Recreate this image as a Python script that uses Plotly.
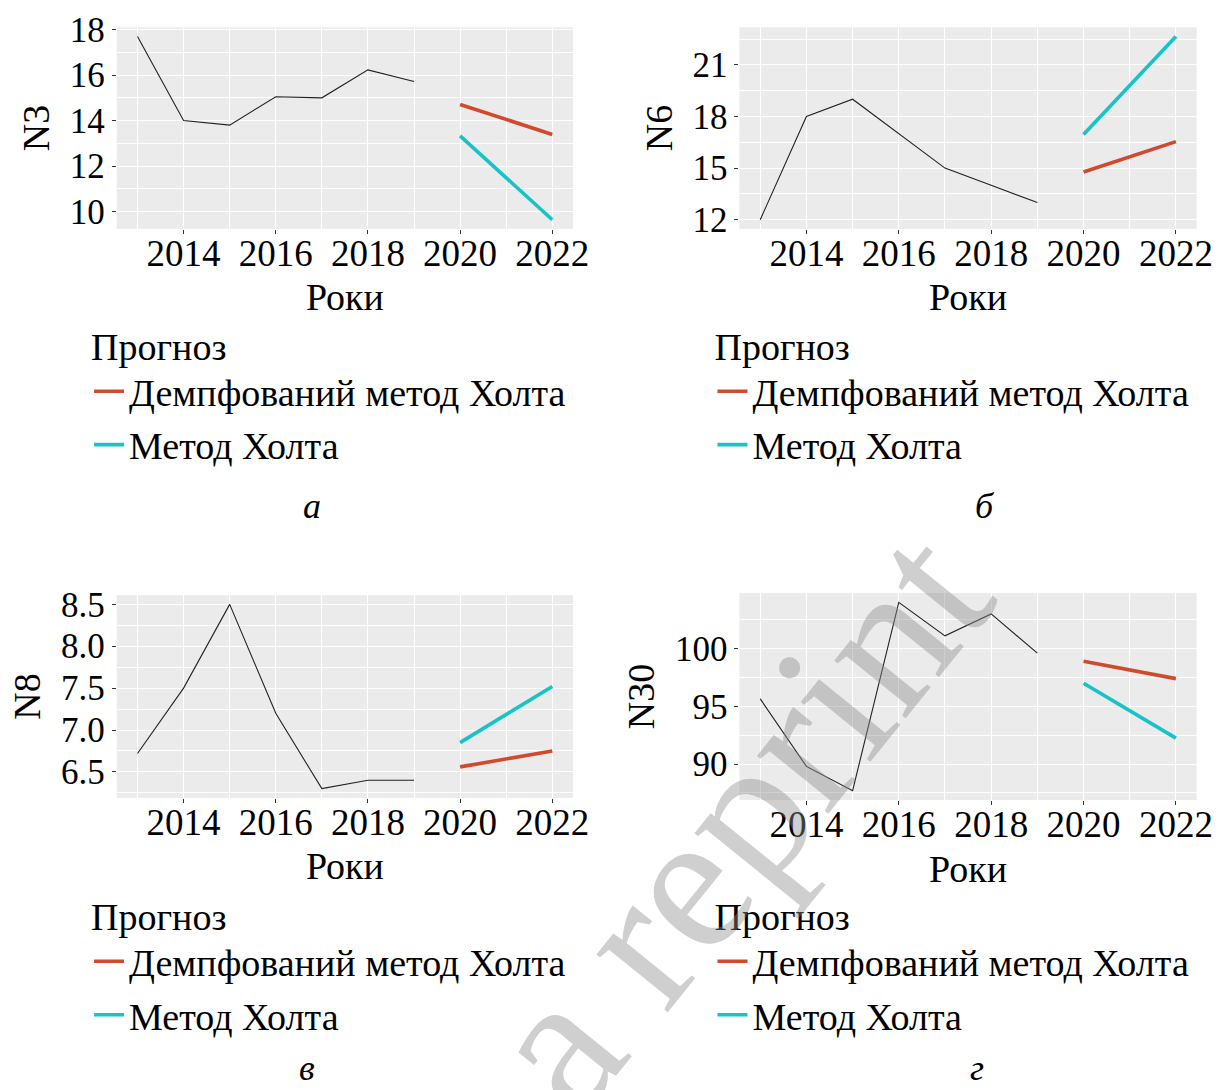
import plotly.graph_objects as go
from plotly.subplots import make_subplots

years = [2013, 2014, 2015, 2016, 2017, 2018, 2019]
fyears = [2020, 2021, 2022]

n3 = [17.7, 14.0, 13.8, 15.05, 15.0, 16.23, 15.72]
n3_damped = [14.71, 14.05, 13.39]
n3_holt = [13.33, 11.48, 9.64]

n6 = [12.0, 18.0, 19.0, 17.0, 15.0, 14.0, 13.0]
n6_damped = [14.77, 15.68, 16.54]
n6_holt = [16.95, 19.8, 22.65]

n8 = [6.72, 7.5, 8.5, 7.2, 6.3, 6.4, 6.4]
n8_damped = [6.56, 6.66, 6.75]
n8_holt = [6.85, 7.18, 7.52]

n30 = [95.65, 89.8, 87.7, 104.0, 101.1, 103.0, 99.6]
n30_damped = [98.9, 98.15, 97.4]
n30_holt = [97.0, 94.6, 92.25]

panel_names = ["N3", "N6", "N8", "N30"]
captions = ["а", "б", "в", "г"]
y_dticks = [2, 3, 0.5, 5]
y_formats = ["", "", ".1f", ""]
series_name_damped = "Демпфований метод Холта"
series_name_holt = "Метод Холта"
legend_title = "Прогноз"
x_title = "Роки"
watermark = "a reprint"

actual = [n3, n6, n8, n30]
damped = [n3_damped, n6_damped, n8_damped, n30_damped]
holt = [n3_holt, n6_holt, n8_holt, n30_holt]

FONT = "Liberation Serif"
RED = "#CF4A2E"
CYAN = "#17C3C9"

fig = make_subplots(rows=2, cols=2)

x_domains = [[0.0957, 0.4697], [0.6061, 0.9809], [0.0957, 0.4697], [0.6061, 0.9809]]
y_domains = [[0.790, 0.975], [0.790, 0.975], [0.268, 0.454], [0.266, 0.456]]
legend_pos = [(0.073, 0.715), (0.584, 0.715), (0.073, 0.192), (0.584, 0.192)]
caption_pos = [(0.2557, 0.5358, "middle"), (0.807, 0.5358, "middle"),
               (0.2517, 0.0, "bottom"), (0.801, 0.0, "bottom")]

for i in range(4):
    r, c = i // 2 + 1, i % 2 + 1
    leg = "legend" if i == 0 else f"legend{i+1}"
    fig.add_trace(go.Scatter(x=years, y=actual[i], mode="lines",
                             line=dict(color="#222222", width=1.1),
                             showlegend=False, legend=leg), row=r, col=c)
    fig.add_trace(go.Scatter(x=fyears, y=damped[i], mode="lines",
                             name=series_name_damped, legendgroup=f"d{i}",
                             line=dict(color=RED, width=3.6),
                             legend=leg), row=r, col=c)
    fig.add_trace(go.Scatter(x=fyears, y=holt[i], mode="lines",
                             name=series_name_holt, legendgroup=f"h{i}",
                             line=dict(color=CYAN, width=3.6),
                             legend=leg), row=r, col=c)

    allv = actual[i] + damped[i] + holt[i]
    lo, hi = min(allv), max(allv)
    pad = 0.05 * (hi - lo)
    ax = "" if i == 0 else str(i + 1)
    fig.layout["xaxis" + ax].update(
        domain=x_domains[i], range=[2012.55, 2022.45], automargin=False,
        tick0=2014, dtick=2, ticks="outside", ticklen=4, tickcolor="#333333",
        ticklabelstandoff=-12,
        showgrid=True, gridcolor="white", gridwidth=1.2, zeroline=False,
        minor=dict(tick0=2013, dtick=1, showgrid=True, gridcolor="white", gridwidth=0.6),
        tickfont=dict(family=FONT, size=37, color="black"),
        title=dict(text=x_title, font=dict(family=FONT, size=38, color="black"), standoff=10),
    )
    fig.layout["yaxis" + ax].update(
        domain=y_domains[i], range=[lo - pad, hi + pad], automargin=False,
        dtick=y_dticks[i], tickformat=y_formats[i], ticks="outside", ticklen=4,
        tickcolor="#333333",
        showgrid=True, gridcolor="white", gridwidth=1.2, zeroline=False,
        minor=dict(dtick=y_dticks[i] / 2, showgrid=True, gridcolor="white", gridwidth=0.6),
        tickfont=dict(family=FONT, size=35, color="black"),
        title=dict(text=panel_names[i], font=dict(family=FONT, size=38, color="black"), standoff=8),
    )
    fig.layout[leg] = dict(
        x=legend_pos[i][0], y=legend_pos[i][1], xanchor="left", yanchor="top",
        title=dict(text=legend_title, font=dict(family=FONT, size=38, color="black")),
        font=dict(family=FONT, size=38, color="black"),
        bgcolor="rgba(0,0,0,0)", itemwidth=30, tracegroupgap=1, traceorder="grouped",
    )
    fig.add_annotation(text=f"<i>{captions[i]}</i>", x=caption_pos[i][0], y=caption_pos[i][1],
                       xref="paper", yref="paper", showarrow=False,
                       xanchor="center", yanchor=caption_pos[i][2],
                       font=dict(family=FONT, size=36, color="black"))

fig.add_annotation(text=watermark, x=0.604, y=0.248, xref="paper", yref="paper",
                   showarrow=False, textangle=-51, xanchor="center", yanchor="middle",
                   font=dict(family=FONT, size=200, color="rgba(140,140,140,0.42)"))

fig.update_layout(
    width=1220, height=1090, margin=dict(l=0, r=0, t=0, b=0, autoexpand=False),
    paper_bgcolor="white", plot_bgcolor="#EBEBEB",
    font=dict(family=FONT, color="black"),
)

fig.write_html("out.html")
